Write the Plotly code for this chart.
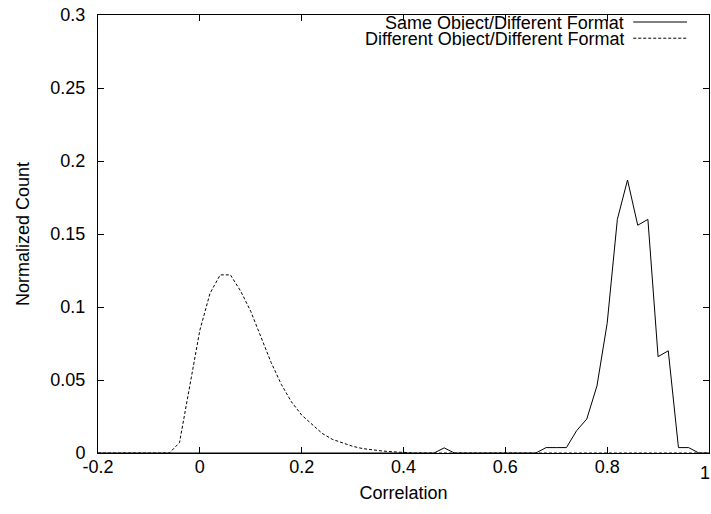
import plotly.graph_objects as go

# bin centres and normalized counts
same_x = [-0.2, 0.46, 0.48, 0.50, 0.66, 0.68, 0.70, 0.72, 0.74, 0.76, 0.78, 0.80,
          0.82, 0.84, 0.86, 0.88, 0.90, 0.92, 0.94, 0.96, 0.98, 1.0]
same_y = [0, 0, 0.0035, 0, 0, 0.0037, 0.0037, 0.0037, 0.0153, 0.0233, 0.046, 0.0888,
          0.160, 0.187, 0.156, 0.160, 0.066, 0.070, 0.0037, 0.0037, 0, 0]

diff_x = [-0.2, -0.06, -0.04, -0.02, 0.0, 0.02, 0.04, 0.06, 0.08, 0.10, 0.12, 0.14,
          0.16, 0.18, 0.20, 0.22, 0.24, 0.26, 0.28, 0.30, 0.32, 0.34, 0.36, 0.38,
          0.40, 0.42, 1.0]
diff_y = [0, 0, 0.007, 0.045, 0.084, 0.1094, 0.122, 0.122, 0.111, 0.097, 0.080, 0.062,
          0.047, 0.035, 0.026, 0.020, 0.0135, 0.0094, 0.0068, 0.0046, 0.003, 0.002,
          0.0013, 0.0008, 0.0004, 0, 0]

x_ticks = [-0.2, 0, 0.2, 0.4, 0.6, 0.8, 1]
x_labels = ["-0.2", "0", "0.2", "0.4", "0.6", "0.8", ""]
x_last_label = "1"   # drawn as an annotation so it stays on the page
y_ticks = [0, 0.05, 0.1, 0.15, 0.2, 0.25, 0.3]
y_labels = ["0", "0.05", "0.1", "0.15", "0.2", "0.25", "0.3"]

legend_names = ["Same Object/Different Format", "Different Object/Different Format"]

FONT = "Liberation Sans, Arial, sans-serif"
FS = 18

fig = go.Figure()
fig.add_trace(go.Scatter(x=same_x, y=same_y, mode="lines", name=legend_names[0],
                         line=dict(color="black", width=1)))
fig.add_trace(go.Scatter(x=diff_x, y=diff_y, mode="lines", name=legend_names[1],
                         line=dict(color="black", width=1, dash="3px,2px")))

# gnuplot-style key: right-aligned text, line sample on the right
for i, (name, dash) in enumerate(zip(legend_names, ["solid", "3px,2px"])):
    yk = 0.984 - i * 0.037
    fig.add_annotation(x=0.8625, y=yk, xref="paper", yref="paper", text=name,
                       showarrow=False, xanchor="right", yanchor="middle",
                       borderpad=0, height=15,
                       font=dict(size=FS, color="black", family=FONT))
    fig.add_shape(type="line", xref="paper", yref="paper", x0=0.876, x1=0.964,
                  y0=yk, y1=yk, line=dict(color="black", width=1, dash=dash))

fig.add_annotation(x=1.0, y=0, xref="paper", yref="paper", text=x_last_label,
                   showarrow=False, xanchor="right", yanchor="top",
                   xshift=2, yshift=-9, borderpad=0,
                   font=dict(size=FS, color="black", family=FONT))

axis_common = dict(showgrid=False, zeroline=False, showline=True, linecolor="black",
                   linewidth=1, mirror="allticks", ticks="inside", ticklen=6,
                   tickcolor="black", automargin=False,
                   tickfont=dict(size=FS, color="black", family=FONT))

fig.update_xaxes(range=[-0.2, 1.0], tickvals=x_ticks, ticktext=x_labels,
                 ticklabelstandoff=-3, ticklabeloverflow="allow",
                 title=dict(text="Correlation", font=dict(size=FS, color="black", family=FONT),
                            standoff=10), **axis_common)
fig.update_yaxes(range=[0, 0.3], tickvals=y_ticks, ticktext=y_labels,
                 ticklabelstandoff=8, ticklabeloverflow="allow",
                 title=dict(text="Normalized Count", font=dict(size=FS, color="black", family=FONT),
                            standoff=16), **axis_common)

fig.update_layout(width=711, height=514, showlegend=False,
                  plot_bgcolor="white", paper_bgcolor="white",
                  margin=dict(l=98, r=2, t=15, b=61),
                  font=dict(family=FONT, color="black"))

# page body has a default 8px margin; remove it so the figure sits at the window origin
fig.write_html("out.html", config={"displayModeBar": False},
               post_script="document.body.style.margin='0';document.body.style.overflow='hidden';")
